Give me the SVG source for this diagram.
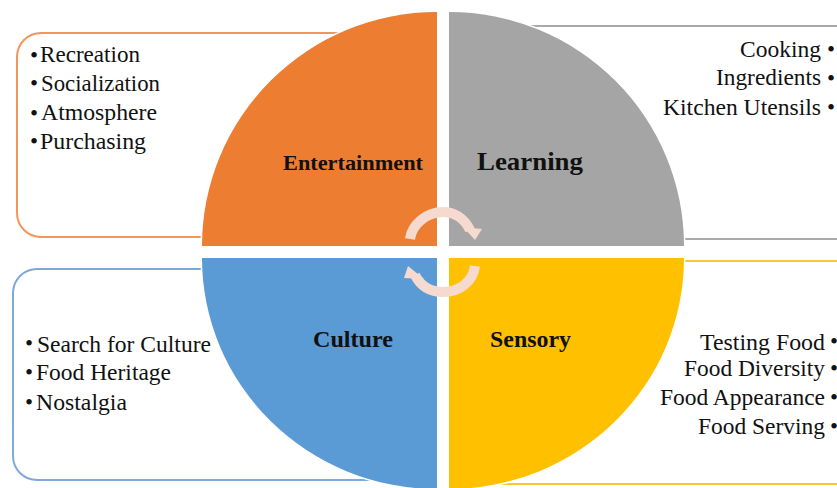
<svg xmlns="http://www.w3.org/2000/svg" width="837" height="488" viewBox="0 0 837 488">
<style>
.box{fill:#fff;stroke-width:2}
.t{font-family:"Liberation Serif","Times New Roman",serif;font-size:23px;fill:#111}
.h{font-family:"Liberation Serif","Times New Roman",serif;font-weight:bold;fill:#111}
.q{stroke:#fff;stroke-width:3;paint-order:stroke}
.arc{fill:none;stroke:#f6dacf;stroke-width:10}
.head{fill:#f6dacf}
</style>
<rect width="837" height="488" fill="#fff"/>
<g id="box-entertainment"><rect class="box" x="17" y="33" width="400" height="204" rx="24" stroke="#f4955a"/>
<text class="t"><tspan x="30" y="63">•</tspan><tspan x="40" y="62" textLength="100" lengthAdjust="spacingAndGlyphs">Recreation</tspan></text>
<text class="t"><tspan x="30" y="91">•</tspan><tspan x="41" y="91" textLength="119" lengthAdjust="spacingAndGlyphs">Socialization</tspan></text>
<text class="t"><tspan x="30" y="121">•</tspan><tspan x="41" y="120" textLength="116" lengthAdjust="spacingAndGlyphs">Atmosphere</tspan></text>
<text class="t"><tspan x="30" y="149">•</tspan><tspan x="40" y="149" textLength="106" lengthAdjust="spacingAndGlyphs">Purchasing</tspan></text></g>
<g id="box-learning"><rect class="box" x="480" y="26" width="380" height="213" rx="24" stroke="#a9a9a9"/>
<text class="t"><tspan x="740" y="57" textLength="81" lengthAdjust="spacingAndGlyphs">Cooking</tspan><tspan x="827" y="57">•</tspan></text>
<text class="t"><tspan x="716" y="85" textLength="105" lengthAdjust="spacingAndGlyphs">Ingredients</tspan><tspan x="827" y="86">•</tspan></text>
<text class="t"><tspan x="663" y="115" textLength="158" lengthAdjust="spacingAndGlyphs">Kitchen Utensils</tspan><tspan x="827" y="115">•</tspan></text></g>
<g id="box-culture"><rect class="box" x="13" y="269" width="400" height="211" rx="24" stroke="#7fa9d9"/>
<text class="t"><tspan x="25" y="351">•</tspan><tspan x="37" y="352" textLength="174" lengthAdjust="spacingAndGlyphs">Search for Culture</tspan></text>
<text class="t"><tspan x="25" y="380">•</tspan><tspan x="36" y="380" textLength="135" lengthAdjust="spacingAndGlyphs">Food Heritage</tspan></text>
<text class="t"><tspan x="25" y="410">•</tspan><tspan x="36" y="410" textLength="91" lengthAdjust="spacingAndGlyphs">Nostalgia</tspan></text></g>
<g id="box-sensory"><rect class="box" x="480" y="261" width="380" height="223" rx="24" stroke="#fdc62e"/>
<text class="t"><tspan x="700" y="350" textLength="125" lengthAdjust="spacingAndGlyphs">Testing Food</tspan><tspan x="830" y="349">•</tspan></text>
<text class="t"><tspan x="684" y="376" textLength="141" lengthAdjust="spacingAndGlyphs">Food Diversity</tspan><tspan x="830" y="376">•</tspan></text>
<text class="t"><tspan x="660" y="405" textLength="165" lengthAdjust="spacingAndGlyphs">Food Appearance</tspan><tspan x="830" y="405">•</tspan></text>
<text class="t"><tspan x="698" y="434" textLength="127" lengthAdjust="spacingAndGlyphs">Food Serving</tspan><tspan x="830" y="434">•</tspan></text></g>
<g id="quadrant-entertainment"><path class="q" d="M437 246H202A235 234 0 0 1 437 12Z" fill="#ed7d31"/>
<text class="h" x="283" y="170" font-size="22" textLength="140" lengthAdjust="spacingAndGlyphs">Entertainment</text></g>
<g id="quadrant-learning"><path class="q" d="M449 246H684A235 234 0 0 0 449 12Z" fill="#a5a5a5"/>
<text class="h" x="477" y="170" font-size="26" textLength="106" lengthAdjust="spacingAndGlyphs">Learning</text></g>
<g id="quadrant-culture"><path class="q" d="M437 258H202A235 231 0 0 0 437 489Z" fill="#5b9bd5"/>
<text class="h" x="313" y="347" font-size="24" textLength="80" lengthAdjust="spacingAndGlyphs">Culture</text></g>
<g id="quadrant-sensory"><path class="q" d="M449 258H684A235 231 0 0 1 449 489Z" fill="#ffc000"/>
<text class="h" x="490" y="347" font-size="24" textLength="81" lengthAdjust="spacingAndGlyphs">Sensory</text></g>
<g id="connectors">
<path class="arc" d="M410 239C412 224 427 212 443 212C454 212 464 218 470 230"/>
<polygon class="head" points="463,227 482,229 475,240"/>
<path class="arc" d="M475 266C473 281 460 292 443 292C431 292 421 287 415 275"/>
<polygon class="head" points="408,266 404,278 424,279"/>
</g>
</svg>
